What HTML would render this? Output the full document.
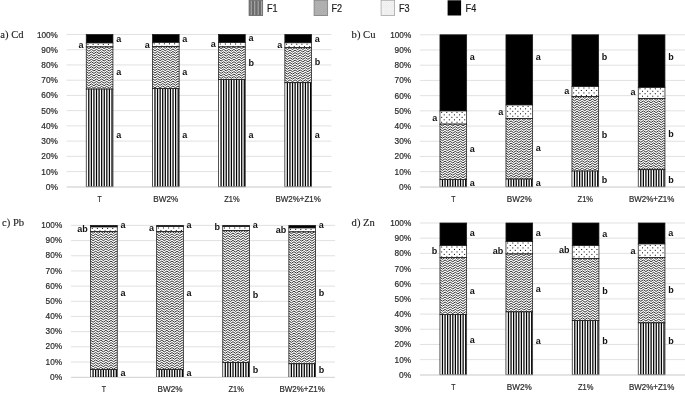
<!DOCTYPE html>
<html><head><meta charset="utf-8"><title>Fractions</title>
<style>
html,body{margin:0;padding:0;background:#fff;}
svg{display:block}
.ax{font-family:"Liberation Sans",sans-serif;font-size:9.2px;fill:#2b2b2b;stroke:#2b2b2b;stroke-width:0.22px}
.lb{font-family:"Liberation Sans",sans-serif;font-size:9px;font-weight:bold;fill:#111}
.tt{font-family:"Liberation Serif",serif;font-size:10.6px;fill:#1a1a1a;stroke:#1a1a1a;stroke-width:0.12px}
.lg{font-family:"Liberation Sans",sans-serif;font-size:10.4px;fill:#1c1c1c;stroke:#1c1c1c;stroke-width:0.2px}
</style></head><body>
<svg width="685" height="393" viewBox="0 0 685 393">
<defs>
<g id="gv"><rect x="0" y="0" width="30" height="160" fill="#fff"/><rect x="1.90" y="0" width="1.25" height="160"/><rect x="4.48" y="0" width="1.25" height="160"/><rect x="7.06" y="0" width="1.25" height="160"/><rect x="9.64" y="0" width="1.25" height="160"/><rect x="12.22" y="0" width="1.25" height="160"/><rect x="14.80" y="0" width="1.25" height="160"/><rect x="17.38" y="0" width="1.25" height="160"/><rect x="19.96" y="0" width="1.25" height="160"/><rect x="22.54" y="0" width="1.25" height="160"/><rect x="25.12" y="0" width="1.25" height="160"/><rect x="27.70" y="0" width="1.25" height="160"/></g>
<polyline id="zr" points="-2.56,1.78 0.00,0.00 2.56,1.78 5.12,0.00 7.68,1.78 10.24,0.00 12.80,1.78 15.36,0.00 17.92,1.78 20.48,0.00 23.04,1.78 25.60,0.00 28.16,1.78 30.72,0.00"/>
<g id="gz"><rect x="0" y="0" width="30" height="160" fill="#fff"/><g fill="none" stroke="#000" stroke-width="0.82" stroke-linejoin="round"><use href="#zr" y="-2.47"/><use href="#zr" y="0.00"/><use href="#zr" y="2.47"/><use href="#zr" y="4.94"/><use href="#zr" y="7.41"/><use href="#zr" y="9.88"/><use href="#zr" y="12.35"/><use href="#zr" y="14.82"/><use href="#zr" y="17.29"/><use href="#zr" y="19.76"/><use href="#zr" y="22.23"/><use href="#zr" y="24.70"/><use href="#zr" y="27.17"/><use href="#zr" y="29.64"/><use href="#zr" y="32.11"/><use href="#zr" y="34.58"/><use href="#zr" y="37.05"/><use href="#zr" y="39.52"/><use href="#zr" y="41.99"/><use href="#zr" y="44.46"/><use href="#zr" y="46.93"/><use href="#zr" y="49.40"/><use href="#zr" y="51.87"/><use href="#zr" y="54.34"/><use href="#zr" y="56.81"/><use href="#zr" y="59.28"/><use href="#zr" y="61.75"/><use href="#zr" y="64.22"/><use href="#zr" y="66.69"/><use href="#zr" y="69.16"/><use href="#zr" y="71.63"/><use href="#zr" y="74.10"/><use href="#zr" y="76.57"/><use href="#zr" y="79.04"/><use href="#zr" y="81.51"/><use href="#zr" y="83.98"/><use href="#zr" y="86.45"/><use href="#zr" y="88.92"/><use href="#zr" y="91.39"/><use href="#zr" y="93.86"/><use href="#zr" y="96.33"/><use href="#zr" y="98.80"/><use href="#zr" y="101.27"/><use href="#zr" y="103.74"/><use href="#zr" y="106.21"/><use href="#zr" y="108.68"/><use href="#zr" y="111.15"/><use href="#zr" y="113.62"/><use href="#zr" y="116.09"/><use href="#zr" y="118.56"/><use href="#zr" y="121.03"/><use href="#zr" y="123.50"/><use href="#zr" y="125.97"/><use href="#zr" y="128.44"/><use href="#zr" y="130.91"/><use href="#zr" y="133.38"/><use href="#zr" y="135.85"/><use href="#zr" y="138.32"/><use href="#zr" y="140.79"/><use href="#zr" y="143.26"/><use href="#zr" y="145.73"/><use href="#zr" y="148.20"/><use href="#zr" y="150.67"/><use href="#zr" y="153.14"/><use href="#zr" y="155.61"/><use href="#zr" y="158.08"/><use href="#zr" y="160.55"/></g></g>
<g id="dr"><rect x="1.20" y="0" width="1" height="1"/><rect x="6.32" y="0" width="1" height="1"/><rect x="11.44" y="0" width="1" height="1"/><rect x="16.56" y="0" width="1" height="1"/><rect x="21.68" y="0" width="1" height="1"/><rect x="26.80" y="0" width="1" height="1"/><rect x="31.92" y="0" width="1" height="1"/></g>
<g id="gd"><rect x="0" y="0" width="30" height="160" fill="#fff"/><use href="#dr" x="0.00" y="0.90"/><use href="#dr" x="2.56" y="3.37"/><use href="#dr" x="0.00" y="5.84"/><use href="#dr" x="2.56" y="8.31"/><use href="#dr" x="0.00" y="10.78"/><use href="#dr" x="2.56" y="13.25"/><use href="#dr" x="0.00" y="15.72"/><use href="#dr" x="2.56" y="18.19"/><use href="#dr" x="0.00" y="20.66"/><use href="#dr" x="2.56" y="23.13"/><use href="#dr" x="0.00" y="25.60"/><use href="#dr" x="2.56" y="28.07"/><use href="#dr" x="0.00" y="30.54"/><use href="#dr" x="2.56" y="33.01"/><use href="#dr" x="0.00" y="35.48"/><use href="#dr" x="2.56" y="37.95"/><use href="#dr" x="0.00" y="40.42"/><use href="#dr" x="2.56" y="42.89"/><use href="#dr" x="0.00" y="45.36"/><use href="#dr" x="2.56" y="47.83"/><use href="#dr" x="0.00" y="50.30"/><use href="#dr" x="2.56" y="52.77"/><use href="#dr" x="0.00" y="55.24"/><use href="#dr" x="2.56" y="57.71"/><use href="#dr" x="0.00" y="60.18"/><use href="#dr" x="2.56" y="62.65"/><use href="#dr" x="0.00" y="65.12"/><use href="#dr" x="2.56" y="67.59"/><use href="#dr" x="0.00" y="70.06"/><use href="#dr" x="2.56" y="72.53"/><use href="#dr" x="0.00" y="75.00"/><use href="#dr" x="2.56" y="77.47"/><use href="#dr" x="0.00" y="79.94"/><use href="#dr" x="2.56" y="82.41"/><use href="#dr" x="0.00" y="84.88"/><use href="#dr" x="2.56" y="87.35"/><use href="#dr" x="0.00" y="89.82"/><use href="#dr" x="2.56" y="92.29"/><use href="#dr" x="0.00" y="94.76"/><use href="#dr" x="2.56" y="97.23"/><use href="#dr" x="0.00" y="99.70"/><use href="#dr" x="2.56" y="102.17"/><use href="#dr" x="0.00" y="104.64"/><use href="#dr" x="2.56" y="107.11"/><use href="#dr" x="0.00" y="109.58"/><use href="#dr" x="2.56" y="112.05"/><use href="#dr" x="0.00" y="114.52"/><use href="#dr" x="2.56" y="116.99"/><use href="#dr" x="0.00" y="119.46"/><use href="#dr" x="2.56" y="121.93"/><use href="#dr" x="0.00" y="124.40"/><use href="#dr" x="2.56" y="126.87"/><use href="#dr" x="0.00" y="129.34"/><use href="#dr" x="2.56" y="131.81"/><use href="#dr" x="0.00" y="134.28"/><use href="#dr" x="2.56" y="136.75"/><use href="#dr" x="0.00" y="139.22"/><use href="#dr" x="2.56" y="141.69"/><use href="#dr" x="0.00" y="144.16"/><use href="#dr" x="2.56" y="146.63"/><use href="#dr" x="0.00" y="149.10"/><use href="#dr" x="2.56" y="151.57"/><use href="#dr" x="0.00" y="154.04"/><use href="#dr" x="2.56" y="156.51"/><use href="#dr" x="0.00" y="158.98"/></g>
</defs>
<rect width="685" height="393" fill="#fff"/>

<rect x="249.1" y="0.3" width="13.5" height="15.2" fill="#6b6b6b"/>
<rect x="250.70" y="0.3" width="1.1" height="15.2" fill="#aaa"/>
<rect x="254.15" y="0.3" width="1.1" height="15.2" fill="#aaa"/>
<rect x="257.60" y="0.3" width="1.1" height="15.2" fill="#aaa"/>
<rect x="261.05" y="0.3" width="1.1" height="15.2" fill="#aaa"/>
<rect x="249.1" y="0.3" width="13.5" height="15.2" fill="none" stroke="#6e6e6e" stroke-width="0.9"/>
<text class="lg" x="267" y="11.8" textLength="10.6" lengthAdjust="spacingAndGlyphs">F1</text>
<rect x="314.1" y="0.3" width="13.5" height="15.2" fill="#bcbcbc"/>
<svg x="314.1" y="0.3" width="13.5" height="15.2" viewBox="314.1 0.3 13.5 15.2"><path d="M298.10 0.30 l16 16 M314.10 0.30 l-16 16 M299.82 0.30 l16 16 M315.82 0.30 l-16 16 M301.54 0.30 l16 16 M317.54 0.30 l-16 16 M303.26 0.30 l16 16 M319.26 0.30 l-16 16 M304.98 0.30 l16 16 M320.98 0.30 l-16 16 M306.70 0.30 l16 16 M322.70 0.30 l-16 16 M308.42 0.30 l16 16 M324.42 0.30 l-16 16 M310.14 0.30 l16 16 M326.14 0.30 l-16 16 M311.86 0.30 l16 16 M327.86 0.30 l-16 16 M313.58 0.30 l16 16 M329.58 0.30 l-16 16 M315.30 0.30 l16 16 M331.30 0.30 l-16 16 M317.02 0.30 l16 16 M333.02 0.30 l-16 16 M318.74 0.30 l16 16 M334.74 0.30 l-16 16 M320.46 0.30 l16 16 M336.46 0.30 l-16 16 M322.18 0.30 l16 16 M338.18 0.30 l-16 16 M323.90 0.30 l16 16 M339.90 0.30 l-16 16 M325.62 0.30 l16 16 M341.62 0.30 l-16 16 M327.34 0.30 l16 16 M343.34 0.30 l-16 16" stroke="#a2a2a2" stroke-width="0.45" fill="none"/></svg>
<rect x="314.1" y="0.3" width="13.5" height="15.2" fill="none" stroke="#858585" stroke-width="0.9"/>
<text class="lg" x="331.5" y="11.8" textLength="10.6" lengthAdjust="spacingAndGlyphs">F2</text>
<rect x="381.1" y="0.3" width="13.5" height="15.2" fill="#f6f6f6"/>
<path d="M382.30 1.50h0.6v0.6h-0.6zM384.02 1.50h0.6v0.6h-0.6zM385.74 1.50h0.6v0.6h-0.6zM387.46 1.50h0.6v0.6h-0.6zM389.18 1.50h0.6v0.6h-0.6zM390.90 1.50h0.6v0.6h-0.6zM392.62 1.50h0.6v0.6h-0.6zM383.16 2.36h0.6v0.6h-0.6zM384.88 2.36h0.6v0.6h-0.6zM386.60 2.36h0.6v0.6h-0.6zM388.32 2.36h0.6v0.6h-0.6zM390.04 2.36h0.6v0.6h-0.6zM391.76 2.36h0.6v0.6h-0.6zM393.48 2.36h0.6v0.6h-0.6zM382.30 3.22h0.6v0.6h-0.6zM384.02 3.22h0.6v0.6h-0.6zM385.74 3.22h0.6v0.6h-0.6zM387.46 3.22h0.6v0.6h-0.6zM389.18 3.22h0.6v0.6h-0.6zM390.90 3.22h0.6v0.6h-0.6zM392.62 3.22h0.6v0.6h-0.6zM383.16 4.08h0.6v0.6h-0.6zM384.88 4.08h0.6v0.6h-0.6zM386.60 4.08h0.6v0.6h-0.6zM388.32 4.08h0.6v0.6h-0.6zM390.04 4.08h0.6v0.6h-0.6zM391.76 4.08h0.6v0.6h-0.6zM393.48 4.08h0.6v0.6h-0.6zM382.30 4.94h0.6v0.6h-0.6zM384.02 4.94h0.6v0.6h-0.6zM385.74 4.94h0.6v0.6h-0.6zM387.46 4.94h0.6v0.6h-0.6zM389.18 4.94h0.6v0.6h-0.6zM390.90 4.94h0.6v0.6h-0.6zM392.62 4.94h0.6v0.6h-0.6zM383.16 5.80h0.6v0.6h-0.6zM384.88 5.80h0.6v0.6h-0.6zM386.60 5.80h0.6v0.6h-0.6zM388.32 5.80h0.6v0.6h-0.6zM390.04 5.80h0.6v0.6h-0.6zM391.76 5.80h0.6v0.6h-0.6zM393.48 5.80h0.6v0.6h-0.6zM382.30 6.66h0.6v0.6h-0.6zM384.02 6.66h0.6v0.6h-0.6zM385.74 6.66h0.6v0.6h-0.6zM387.46 6.66h0.6v0.6h-0.6zM389.18 6.66h0.6v0.6h-0.6zM390.90 6.66h0.6v0.6h-0.6zM392.62 6.66h0.6v0.6h-0.6zM383.16 7.52h0.6v0.6h-0.6zM384.88 7.52h0.6v0.6h-0.6zM386.60 7.52h0.6v0.6h-0.6zM388.32 7.52h0.6v0.6h-0.6zM390.04 7.52h0.6v0.6h-0.6zM391.76 7.52h0.6v0.6h-0.6zM393.48 7.52h0.6v0.6h-0.6zM382.30 8.38h0.6v0.6h-0.6zM384.02 8.38h0.6v0.6h-0.6zM385.74 8.38h0.6v0.6h-0.6zM387.46 8.38h0.6v0.6h-0.6zM389.18 8.38h0.6v0.6h-0.6zM390.90 8.38h0.6v0.6h-0.6zM392.62 8.38h0.6v0.6h-0.6zM383.16 9.24h0.6v0.6h-0.6zM384.88 9.24h0.6v0.6h-0.6zM386.60 9.24h0.6v0.6h-0.6zM388.32 9.24h0.6v0.6h-0.6zM390.04 9.24h0.6v0.6h-0.6zM391.76 9.24h0.6v0.6h-0.6zM393.48 9.24h0.6v0.6h-0.6zM382.30 10.10h0.6v0.6h-0.6zM384.02 10.10h0.6v0.6h-0.6zM385.74 10.10h0.6v0.6h-0.6zM387.46 10.10h0.6v0.6h-0.6zM389.18 10.10h0.6v0.6h-0.6zM390.90 10.10h0.6v0.6h-0.6zM392.62 10.10h0.6v0.6h-0.6zM383.16 10.96h0.6v0.6h-0.6zM384.88 10.96h0.6v0.6h-0.6zM386.60 10.96h0.6v0.6h-0.6zM388.32 10.96h0.6v0.6h-0.6zM390.04 10.96h0.6v0.6h-0.6zM391.76 10.96h0.6v0.6h-0.6zM393.48 10.96h0.6v0.6h-0.6zM382.30 11.82h0.6v0.6h-0.6zM384.02 11.82h0.6v0.6h-0.6zM385.74 11.82h0.6v0.6h-0.6zM387.46 11.82h0.6v0.6h-0.6zM389.18 11.82h0.6v0.6h-0.6zM390.90 11.82h0.6v0.6h-0.6zM392.62 11.82h0.6v0.6h-0.6zM383.16 12.68h0.6v0.6h-0.6zM384.88 12.68h0.6v0.6h-0.6zM386.60 12.68h0.6v0.6h-0.6zM388.32 12.68h0.6v0.6h-0.6zM390.04 12.68h0.6v0.6h-0.6zM391.76 12.68h0.6v0.6h-0.6zM393.48 12.68h0.6v0.6h-0.6zM382.30 13.54h0.6v0.6h-0.6zM384.02 13.54h0.6v0.6h-0.6zM385.74 13.54h0.6v0.6h-0.6zM387.46 13.54h0.6v0.6h-0.6zM389.18 13.54h0.6v0.6h-0.6zM390.90 13.54h0.6v0.6h-0.6zM392.62 13.54h0.6v0.6h-0.6zM383.16 14.40h0.6v0.6h-0.6zM384.88 14.40h0.6v0.6h-0.6zM386.60 14.40h0.6v0.6h-0.6zM388.32 14.40h0.6v0.6h-0.6zM390.04 14.40h0.6v0.6h-0.6zM391.76 14.40h0.6v0.6h-0.6zM393.48 14.40h0.6v0.6h-0.6z" fill="#dcdcdc"/>
<rect x="381.1" y="0.3" width="13.5" height="15.2" fill="none" stroke="#a6a6a6" stroke-width="0.8"/>
<text class="lg" x="399" y="11.8" textLength="10.6" lengthAdjust="spacingAndGlyphs">F3</text>
<rect x="447.6" y="0.3" width="13.5" height="15.2" fill="#000"/>
<text class="lg" x="465.6" y="11.8" textLength="10.6" lengthAdjust="spacingAndGlyphs">F4</text>
<g id="chart-a">
<text class="tt" x="0.3" y="37.6">a) Cd</text>
<line x1="66.6" x2="331.4" y1="34.50" y2="34.50" stroke="#d9d9d9" stroke-width="0.8"/>
<text class="ax" x="57.9" y="37.50" text-anchor="end" textLength="21.0" lengthAdjust="spacingAndGlyphs">100%</text>
<line x1="66.6" x2="331.4" y1="49.73" y2="49.73" stroke="#d9d9d9" stroke-width="0.8"/>
<text class="ax" x="57.9" y="52.73" text-anchor="end" textLength="16.6" lengthAdjust="spacingAndGlyphs">90%</text>
<line x1="66.6" x2="331.4" y1="64.96" y2="64.96" stroke="#d9d9d9" stroke-width="0.8"/>
<text class="ax" x="57.9" y="67.96" text-anchor="end" textLength="16.6" lengthAdjust="spacingAndGlyphs">80%</text>
<line x1="66.6" x2="331.4" y1="80.19" y2="80.19" stroke="#d9d9d9" stroke-width="0.8"/>
<text class="ax" x="57.9" y="83.19" text-anchor="end" textLength="16.6" lengthAdjust="spacingAndGlyphs">70%</text>
<line x1="66.6" x2="331.4" y1="95.42" y2="95.42" stroke="#d9d9d9" stroke-width="0.8"/>
<text class="ax" x="57.9" y="98.42" text-anchor="end" textLength="16.6" lengthAdjust="spacingAndGlyphs">60%</text>
<line x1="66.6" x2="331.4" y1="110.65" y2="110.65" stroke="#d9d9d9" stroke-width="0.8"/>
<text class="ax" x="57.9" y="113.65" text-anchor="end" textLength="16.6" lengthAdjust="spacingAndGlyphs">50%</text>
<line x1="66.6" x2="331.4" y1="125.88" y2="125.88" stroke="#d9d9d9" stroke-width="0.8"/>
<text class="ax" x="57.9" y="128.88" text-anchor="end" textLength="16.6" lengthAdjust="spacingAndGlyphs">40%</text>
<line x1="66.6" x2="331.4" y1="141.11" y2="141.11" stroke="#d9d9d9" stroke-width="0.8"/>
<text class="ax" x="57.9" y="144.11" text-anchor="end" textLength="16.6" lengthAdjust="spacingAndGlyphs">30%</text>
<line x1="66.6" x2="331.4" y1="156.34" y2="156.34" stroke="#d9d9d9" stroke-width="0.8"/>
<text class="ax" x="57.9" y="159.34" text-anchor="end" textLength="16.6" lengthAdjust="spacingAndGlyphs">20%</text>
<line x1="66.6" x2="331.4" y1="171.57" y2="171.57" stroke="#d9d9d9" stroke-width="0.8"/>
<text class="ax" x="57.9" y="174.57" text-anchor="end" textLength="16.6" lengthAdjust="spacingAndGlyphs">10%</text>
<line x1="66.6" x2="331.4" y1="186.80" y2="186.80" stroke="#d9d9d9" stroke-width="0.8"/>
<text class="ax" x="57.9" y="189.80" text-anchor="end" textLength="12.2" lengthAdjust="spacingAndGlyphs">0%</text>
<rect x="86.25" y="34.50" width="26.70" height="8.50" fill="#000"/><rect x="86.25" y="34.50" width="26.70" height="8.50" fill="none" stroke="#1a1a1a" stroke-width="0.75"/>
<svg x="86.25" y="43.00" width="26.70" height="3.90"><use href="#gd"/></svg><rect x="86.25" y="43.00" width="26.70" height="3.90" fill="none" stroke="#1a1a1a" stroke-width="0.75"/>
<svg x="86.25" y="46.90" width="26.70" height="42.20"><use href="#gz"/></svg><rect x="86.25" y="46.90" width="26.70" height="42.20" fill="none" stroke="#1a1a1a" stroke-width="0.75"/>
<svg x="86.25" y="89.10" width="26.70" height="97.70"><use href="#gv"/></svg><rect x="86.25" y="89.10" width="26.70" height="97.70" fill="none" stroke="#1a1a1a" stroke-width="0.75"/>
<text class="lb" x="116.15" y="42.25">a</text>
<text class="lb" x="83.55" y="48.45" text-anchor="end">a</text>
<text class="lb" x="116.15" y="74.85">a</text>
<text class="lb" x="116.15" y="137.85">a</text>
<text class="ax" x="99.60" y="202.2" text-anchor="middle" textLength="4.2" lengthAdjust="spacingAndGlyphs">T</text>
<rect x="152.45" y="34.50" width="26.70" height="7.90" fill="#000"/><rect x="152.45" y="34.50" width="26.70" height="7.90" fill="none" stroke="#1a1a1a" stroke-width="0.75"/>
<svg x="152.45" y="42.40" width="26.70" height="4.10"><use href="#gd"/></svg><rect x="152.45" y="42.40" width="26.70" height="4.10" fill="none" stroke="#1a1a1a" stroke-width="0.75"/>
<svg x="152.45" y="46.50" width="26.70" height="42.00"><use href="#gz"/></svg><rect x="152.45" y="46.50" width="26.70" height="42.00" fill="none" stroke="#1a1a1a" stroke-width="0.75"/>
<svg x="152.45" y="88.50" width="26.70" height="98.30"><use href="#gv"/></svg><rect x="152.45" y="88.50" width="26.70" height="98.30" fill="none" stroke="#1a1a1a" stroke-width="0.75"/>
<text class="lb" x="182.35" y="41.85">a</text>
<text class="lb" x="149.75" y="48.25" text-anchor="end">a</text>
<text class="lb" x="182.35" y="75.45">a</text>
<text class="lb" x="182.35" y="137.85">a</text>
<text class="ax" x="165.80" y="202.2" text-anchor="middle" textLength="25" lengthAdjust="spacingAndGlyphs">BW2%</text>
<rect x="218.55" y="34.50" width="26.70" height="8.10" fill="#000"/><rect x="218.55" y="34.50" width="26.70" height="8.10" fill="none" stroke="#1a1a1a" stroke-width="0.75"/>
<svg x="218.55" y="42.60" width="26.70" height="4.30"><use href="#gd"/></svg><rect x="218.55" y="42.60" width="26.70" height="4.30" fill="none" stroke="#1a1a1a" stroke-width="0.75"/>
<svg x="218.55" y="46.90" width="26.70" height="32.60"><use href="#gz"/></svg><rect x="218.55" y="46.90" width="26.70" height="32.60" fill="none" stroke="#1a1a1a" stroke-width="0.75"/>
<svg x="218.55" y="79.50" width="26.70" height="107.30"><use href="#gv"/></svg><rect x="218.55" y="79.50" width="26.70" height="107.30" fill="none" stroke="#1a1a1a" stroke-width="0.75"/>
<text class="lb" x="248.45" y="41.25">a</text>
<text class="lb" x="215.85" y="47.45" text-anchor="end">a</text>
<text class="lb" x="248.45" y="65.65">b</text>
<text class="lb" x="248.45" y="137.85">a</text>
<text class="ax" x="231.90" y="202.2" text-anchor="middle" textLength="15.4" lengthAdjust="spacingAndGlyphs">Z1%</text>
<rect x="284.85" y="34.50" width="26.70" height="8.30" fill="#000"/><rect x="284.85" y="34.50" width="26.70" height="8.30" fill="none" stroke="#1a1a1a" stroke-width="0.75"/>
<svg x="284.85" y="42.80" width="26.70" height="4.90"><use href="#gd"/></svg><rect x="284.85" y="42.80" width="26.70" height="4.90" fill="none" stroke="#1a1a1a" stroke-width="0.75"/>
<svg x="284.85" y="47.70" width="26.70" height="35.00"><use href="#gz"/></svg><rect x="284.85" y="47.70" width="26.70" height="35.00" fill="none" stroke="#1a1a1a" stroke-width="0.75"/>
<svg x="284.85" y="82.70" width="26.70" height="104.10"><use href="#gv"/></svg><rect x="284.85" y="82.70" width="26.70" height="104.10" fill="none" stroke="#1a1a1a" stroke-width="0.75"/>
<text class="lb" x="314.75" y="41.85">a</text>
<text class="lb" x="282.15" y="48.25" text-anchor="end">a</text>
<text class="lb" x="314.75" y="65.25">b</text>
<text class="lb" x="314.75" y="137.85">a</text>
<text class="ax" x="298.20" y="202.2" text-anchor="middle" textLength="45.4" lengthAdjust="spacingAndGlyphs">BW2%+Z1%</text>
<line x1="66.6" x2="331.4" y1="187.10" y2="187.10" stroke="#d9d9d9" stroke-width="1"/>
</g>
<g id="chart-b">
<text class="tt" x="351.6" y="37.6">b) Cu</text>
<line x1="420" x2="685" y1="34.80" y2="34.80" stroke="#d9d9d9" stroke-width="0.8"/>
<text class="ax" x="411.2" y="37.80" text-anchor="end" textLength="21.0" lengthAdjust="spacingAndGlyphs">100%</text>
<line x1="420" x2="685" y1="50.01" y2="50.01" stroke="#d9d9d9" stroke-width="0.8"/>
<text class="ax" x="411.2" y="53.01" text-anchor="end" textLength="16.6" lengthAdjust="spacingAndGlyphs">90%</text>
<line x1="420" x2="685" y1="65.22" y2="65.22" stroke="#d9d9d9" stroke-width="0.8"/>
<text class="ax" x="411.2" y="68.22" text-anchor="end" textLength="16.6" lengthAdjust="spacingAndGlyphs">80%</text>
<line x1="420" x2="685" y1="80.43" y2="80.43" stroke="#d9d9d9" stroke-width="0.8"/>
<text class="ax" x="411.2" y="83.43" text-anchor="end" textLength="16.6" lengthAdjust="spacingAndGlyphs">70%</text>
<line x1="420" x2="685" y1="95.64" y2="95.64" stroke="#d9d9d9" stroke-width="0.8"/>
<text class="ax" x="411.2" y="98.64" text-anchor="end" textLength="16.6" lengthAdjust="spacingAndGlyphs">60%</text>
<line x1="420" x2="685" y1="110.85" y2="110.85" stroke="#d9d9d9" stroke-width="0.8"/>
<text class="ax" x="411.2" y="113.85" text-anchor="end" textLength="16.6" lengthAdjust="spacingAndGlyphs">50%</text>
<line x1="420" x2="685" y1="126.06" y2="126.06" stroke="#d9d9d9" stroke-width="0.8"/>
<text class="ax" x="411.2" y="129.06" text-anchor="end" textLength="16.6" lengthAdjust="spacingAndGlyphs">40%</text>
<line x1="420" x2="685" y1="141.27" y2="141.27" stroke="#d9d9d9" stroke-width="0.8"/>
<text class="ax" x="411.2" y="144.27" text-anchor="end" textLength="16.6" lengthAdjust="spacingAndGlyphs">30%</text>
<line x1="420" x2="685" y1="156.48" y2="156.48" stroke="#d9d9d9" stroke-width="0.8"/>
<text class="ax" x="411.2" y="159.48" text-anchor="end" textLength="16.6" lengthAdjust="spacingAndGlyphs">20%</text>
<line x1="420" x2="685" y1="171.69" y2="171.69" stroke="#d9d9d9" stroke-width="0.8"/>
<text class="ax" x="411.2" y="174.69" text-anchor="end" textLength="16.6" lengthAdjust="spacingAndGlyphs">10%</text>
<line x1="420" x2="685" y1="186.90" y2="186.90" stroke="#d9d9d9" stroke-width="0.8"/>
<text class="ax" x="411.2" y="189.90" text-anchor="end" textLength="12.2" lengthAdjust="spacingAndGlyphs">0%</text>
<rect x="439.95" y="34.80" width="26.70" height="76.20" fill="#000"/><rect x="439.95" y="34.80" width="26.70" height="76.20" fill="none" stroke="#1a1a1a" stroke-width="0.75"/>
<svg x="439.95" y="111.00" width="26.70" height="13.10"><use href="#gd"/></svg><rect x="439.95" y="111.00" width="26.70" height="13.10" fill="none" stroke="#1a1a1a" stroke-width="0.75"/>
<svg x="439.95" y="124.10" width="26.70" height="55.40"><use href="#gz"/></svg><rect x="439.95" y="124.10" width="26.70" height="55.40" fill="none" stroke="#1a1a1a" stroke-width="0.75"/>
<svg x="439.95" y="179.50" width="26.70" height="7.40"><use href="#gv"/></svg><rect x="439.95" y="179.50" width="26.70" height="7.40" fill="none" stroke="#1a1a1a" stroke-width="0.75"/>
<text class="lb" x="469.85" y="59.85">a</text>
<text class="lb" x="437.25" y="120.85" text-anchor="end">a</text>
<text class="lb" x="469.85" y="152.15">a</text>
<text class="lb" x="469.85" y="186.25">a</text>
<text class="ax" x="453.30" y="202.4" text-anchor="middle" textLength="4.2" lengthAdjust="spacingAndGlyphs">T</text>
<rect x="505.95" y="34.80" width="26.70" height="70.20" fill="#000"/><rect x="505.95" y="34.80" width="26.70" height="70.20" fill="none" stroke="#1a1a1a" stroke-width="0.75"/>
<svg x="505.95" y="105.00" width="26.70" height="13.50"><use href="#gd"/></svg><rect x="505.95" y="105.00" width="26.70" height="13.50" fill="none" stroke="#1a1a1a" stroke-width="0.75"/>
<svg x="505.95" y="118.50" width="26.70" height="60.60"><use href="#gz"/></svg><rect x="505.95" y="118.50" width="26.70" height="60.60" fill="none" stroke="#1a1a1a" stroke-width="0.75"/>
<svg x="505.95" y="179.10" width="26.70" height="7.80"><use href="#gv"/></svg><rect x="505.95" y="179.10" width="26.70" height="7.80" fill="none" stroke="#1a1a1a" stroke-width="0.75"/>
<text class="lb" x="535.85" y="59.85">a</text>
<text class="lb" x="503.25" y="115.35" text-anchor="end">a</text>
<text class="lb" x="535.85" y="150.55">a</text>
<text class="lb" x="535.85" y="186.25">a</text>
<text class="ax" x="519.30" y="202.4" text-anchor="middle" textLength="25" lengthAdjust="spacingAndGlyphs">BW2%</text>
<rect x="571.95" y="34.80" width="26.70" height="51.80" fill="#000"/><rect x="571.95" y="34.80" width="26.70" height="51.80" fill="none" stroke="#1a1a1a" stroke-width="0.75"/>
<svg x="571.95" y="86.60" width="26.70" height="9.90"><use href="#gd"/></svg><rect x="571.95" y="86.60" width="26.70" height="9.90" fill="none" stroke="#1a1a1a" stroke-width="0.75"/>
<svg x="571.95" y="96.50" width="26.70" height="74.60"><use href="#gz"/></svg><rect x="571.95" y="96.50" width="26.70" height="74.60" fill="none" stroke="#1a1a1a" stroke-width="0.75"/>
<svg x="571.95" y="171.10" width="26.70" height="15.80"><use href="#gv"/></svg><rect x="571.95" y="171.10" width="26.70" height="15.80" fill="none" stroke="#1a1a1a" stroke-width="0.75"/>
<text class="lb" x="601.85" y="60.45">b</text>
<text class="lb" x="569.25" y="94.35" text-anchor="end">a</text>
<text class="lb" x="601.85" y="137.95">b</text>
<text class="lb" x="601.85" y="182.85">b</text>
<text class="ax" x="585.30" y="202.4" text-anchor="middle" textLength="15.4" lengthAdjust="spacingAndGlyphs">Z1%</text>
<rect x="638.25" y="34.80" width="26.70" height="52.60" fill="#000"/><rect x="638.25" y="34.80" width="26.70" height="52.60" fill="none" stroke="#1a1a1a" stroke-width="0.75"/>
<svg x="638.25" y="87.40" width="26.70" height="11.10"><use href="#gd"/></svg><rect x="638.25" y="87.40" width="26.70" height="11.10" fill="none" stroke="#1a1a1a" stroke-width="0.75"/>
<svg x="638.25" y="98.50" width="26.70" height="71.20"><use href="#gz"/></svg><rect x="638.25" y="98.50" width="26.70" height="71.20" fill="none" stroke="#1a1a1a" stroke-width="0.75"/>
<svg x="638.25" y="169.70" width="26.70" height="17.20"><use href="#gv"/></svg><rect x="638.25" y="169.70" width="26.70" height="17.20" fill="none" stroke="#1a1a1a" stroke-width="0.75"/>
<text class="lb" x="668.15" y="60.45">b</text>
<text class="lb" x="635.55" y="94.95" text-anchor="end">a</text>
<text class="lb" x="668.15" y="137.25">b</text>
<text class="lb" x="668.15" y="182.85">b</text>
<text class="ax" x="651.60" y="202.4" text-anchor="middle" textLength="45.4" lengthAdjust="spacingAndGlyphs">BW2%+Z1%</text>
<line x1="420" x2="685" y1="187.20" y2="187.20" stroke="#d9d9d9" stroke-width="1"/>
</g>
<g id="chart-c">
<text class="tt" x="2" y="226">c) Pb</text>
<line x1="71" x2="335" y1="225.40" y2="225.40" stroke="#d9d9d9" stroke-width="0.8"/>
<text class="ax" x="62.2" y="228.00" text-anchor="end" textLength="21.0" lengthAdjust="spacingAndGlyphs">100%</text>
<line x1="71" x2="335" y1="240.58" y2="240.58" stroke="#d9d9d9" stroke-width="0.8"/>
<text class="ax" x="62.2" y="243.18" text-anchor="end" textLength="16.6" lengthAdjust="spacingAndGlyphs">90%</text>
<line x1="71" x2="335" y1="255.76" y2="255.76" stroke="#d9d9d9" stroke-width="0.8"/>
<text class="ax" x="62.2" y="258.36" text-anchor="end" textLength="16.6" lengthAdjust="spacingAndGlyphs">80%</text>
<line x1="71" x2="335" y1="270.94" y2="270.94" stroke="#d9d9d9" stroke-width="0.8"/>
<text class="ax" x="62.2" y="273.54" text-anchor="end" textLength="16.6" lengthAdjust="spacingAndGlyphs">70%</text>
<line x1="71" x2="335" y1="286.12" y2="286.12" stroke="#d9d9d9" stroke-width="0.8"/>
<text class="ax" x="62.2" y="288.72" text-anchor="end" textLength="16.6" lengthAdjust="spacingAndGlyphs">60%</text>
<line x1="71" x2="335" y1="301.30" y2="301.30" stroke="#d9d9d9" stroke-width="0.8"/>
<text class="ax" x="62.2" y="303.90" text-anchor="end" textLength="16.6" lengthAdjust="spacingAndGlyphs">50%</text>
<line x1="71" x2="335" y1="316.48" y2="316.48" stroke="#d9d9d9" stroke-width="0.8"/>
<text class="ax" x="62.2" y="319.08" text-anchor="end" textLength="16.6" lengthAdjust="spacingAndGlyphs">40%</text>
<line x1="71" x2="335" y1="331.66" y2="331.66" stroke="#d9d9d9" stroke-width="0.8"/>
<text class="ax" x="62.2" y="334.26" text-anchor="end" textLength="16.6" lengthAdjust="spacingAndGlyphs">30%</text>
<line x1="71" x2="335" y1="346.84" y2="346.84" stroke="#d9d9d9" stroke-width="0.8"/>
<text class="ax" x="62.2" y="349.44" text-anchor="end" textLength="16.6" lengthAdjust="spacingAndGlyphs">20%</text>
<line x1="71" x2="335" y1="362.02" y2="362.02" stroke="#d9d9d9" stroke-width="0.8"/>
<text class="ax" x="62.2" y="364.62" text-anchor="end" textLength="16.6" lengthAdjust="spacingAndGlyphs">10%</text>
<line x1="71" x2="335" y1="377.20" y2="377.20" stroke="#d9d9d9" stroke-width="0.8"/>
<text class="ax" x="62.2" y="379.80" text-anchor="end" textLength="12.2" lengthAdjust="spacingAndGlyphs">0%</text>
<rect x="90.55" y="225.40" width="26.70" height="1.60" fill="#000"/><rect x="90.55" y="225.40" width="26.70" height="1.60" fill="none" stroke="#1a1a1a" stroke-width="0.75"/>
<svg x="90.55" y="227.00" width="26.70" height="4.50"><use href="#gd"/></svg><rect x="90.55" y="227.00" width="26.70" height="4.50" fill="none" stroke="#1a1a1a" stroke-width="0.75"/>
<svg x="90.55" y="231.50" width="26.70" height="138.00"><use href="#gz"/></svg><rect x="90.55" y="231.50" width="26.70" height="138.00" fill="none" stroke="#1a1a1a" stroke-width="0.75"/>
<svg x="90.55" y="369.50" width="26.70" height="7.70"><use href="#gv"/></svg><rect x="90.55" y="369.50" width="26.70" height="7.70" fill="none" stroke="#1a1a1a" stroke-width="0.75"/>
<text class="lb" x="120.45" y="228.25">a</text>
<text class="lb" x="87.85" y="231.85" text-anchor="end">ab</text>
<text class="lb" x="120.45" y="295.85">a</text>
<text class="lb" x="120.45" y="376.25">a</text>
<text class="ax" x="103.90" y="392.4" text-anchor="middle" textLength="4.2" lengthAdjust="spacingAndGlyphs">T</text>
<rect x="156.65" y="225.40" width="26.70" height="1.20" fill="#000"/><rect x="156.65" y="225.40" width="26.70" height="1.20" fill="none" stroke="#1a1a1a" stroke-width="0.75"/>
<svg x="156.65" y="226.60" width="26.70" height="4.90"><use href="#gd"/></svg><rect x="156.65" y="226.60" width="26.70" height="4.90" fill="none" stroke="#1a1a1a" stroke-width="0.75"/>
<svg x="156.65" y="231.50" width="26.70" height="138.00"><use href="#gz"/></svg><rect x="156.65" y="231.50" width="26.70" height="138.00" fill="none" stroke="#1a1a1a" stroke-width="0.75"/>
<svg x="156.65" y="369.50" width="26.70" height="7.70"><use href="#gv"/></svg><rect x="156.65" y="369.50" width="26.70" height="7.70" fill="none" stroke="#1a1a1a" stroke-width="0.75"/>
<text class="lb" x="186.55" y="228.25">a</text>
<text class="lb" x="153.95" y="230.85" text-anchor="end">a</text>
<text class="lb" x="186.55" y="295.85">a</text>
<text class="lb" x="186.55" y="376.25">a</text>
<text class="ax" x="170.00" y="392.4" text-anchor="middle" textLength="25" lengthAdjust="spacingAndGlyphs">BW2%</text>
<rect x="222.75" y="225.40" width="26.70" height="1.20" fill="#000"/><rect x="222.75" y="225.40" width="26.70" height="1.20" fill="none" stroke="#1a1a1a" stroke-width="0.75"/>
<svg x="222.75" y="226.60" width="26.70" height="3.90"><use href="#gd"/></svg><rect x="222.75" y="226.60" width="26.70" height="3.90" fill="none" stroke="#1a1a1a" stroke-width="0.75"/>
<svg x="222.75" y="230.50" width="26.70" height="132.00"><use href="#gz"/></svg><rect x="222.75" y="230.50" width="26.70" height="132.00" fill="none" stroke="#1a1a1a" stroke-width="0.75"/>
<svg x="222.75" y="362.50" width="26.70" height="14.70"><use href="#gv"/></svg><rect x="222.75" y="362.50" width="26.70" height="14.70" fill="none" stroke="#1a1a1a" stroke-width="0.75"/>
<text class="lb" x="252.65" y="228.25">a</text>
<text class="lb" x="220.05" y="230.45" text-anchor="end">b</text>
<text class="lb" x="252.65" y="298.25">b</text>
<text class="lb" x="252.65" y="373.35">b</text>
<text class="ax" x="236.10" y="392.4" text-anchor="middle" textLength="15.4" lengthAdjust="spacingAndGlyphs">Z1%</text>
<rect x="288.85" y="225.40" width="26.70" height="2.60" fill="#000"/><rect x="288.85" y="225.40" width="26.70" height="2.60" fill="none" stroke="#1a1a1a" stroke-width="0.75"/>
<svg x="288.85" y="228.00" width="26.70" height="3.90"><use href="#gd"/></svg><rect x="288.85" y="228.00" width="26.70" height="3.90" fill="none" stroke="#1a1a1a" stroke-width="0.75"/>
<svg x="288.85" y="231.90" width="26.70" height="131.90"><use href="#gz"/></svg><rect x="288.85" y="231.90" width="26.70" height="131.90" fill="none" stroke="#1a1a1a" stroke-width="0.75"/>
<svg x="288.85" y="363.80" width="26.70" height="13.40"><use href="#gv"/></svg><rect x="288.85" y="363.80" width="26.70" height="13.40" fill="none" stroke="#1a1a1a" stroke-width="0.75"/>
<text class="lb" x="318.75" y="228.25">a</text>
<text class="lb" x="286.15" y="233.25" text-anchor="end">ab</text>
<text class="lb" x="318.75" y="296.25">b</text>
<text class="lb" x="318.75" y="373.25">b</text>
<text class="ax" x="302.20" y="392.4" text-anchor="middle" textLength="45.4" lengthAdjust="spacingAndGlyphs">BW2%+Z1%</text>
<line x1="71" x2="335" y1="377.50" y2="377.50" stroke="#d9d9d9" stroke-width="1"/>
</g>
<g id="chart-d">
<text class="tt" x="351.6" y="225.6">d) Zn</text>
<line x1="420" x2="685" y1="223.00" y2="223.00" stroke="#d9d9d9" stroke-width="0.8"/>
<text class="ax" x="411.2" y="226.00" text-anchor="end" textLength="21.0" lengthAdjust="spacingAndGlyphs">100%</text>
<line x1="420" x2="685" y1="238.18" y2="238.18" stroke="#d9d9d9" stroke-width="0.8"/>
<text class="ax" x="411.2" y="241.18" text-anchor="end" textLength="16.6" lengthAdjust="spacingAndGlyphs">90%</text>
<line x1="420" x2="685" y1="253.36" y2="253.36" stroke="#d9d9d9" stroke-width="0.8"/>
<text class="ax" x="411.2" y="256.36" text-anchor="end" textLength="16.6" lengthAdjust="spacingAndGlyphs">80%</text>
<line x1="420" x2="685" y1="268.54" y2="268.54" stroke="#d9d9d9" stroke-width="0.8"/>
<text class="ax" x="411.2" y="271.54" text-anchor="end" textLength="16.6" lengthAdjust="spacingAndGlyphs">70%</text>
<line x1="420" x2="685" y1="283.72" y2="283.72" stroke="#d9d9d9" stroke-width="0.8"/>
<text class="ax" x="411.2" y="286.72" text-anchor="end" textLength="16.6" lengthAdjust="spacingAndGlyphs">60%</text>
<line x1="420" x2="685" y1="298.90" y2="298.90" stroke="#d9d9d9" stroke-width="0.8"/>
<text class="ax" x="411.2" y="301.90" text-anchor="end" textLength="16.6" lengthAdjust="spacingAndGlyphs">50%</text>
<line x1="420" x2="685" y1="314.08" y2="314.08" stroke="#d9d9d9" stroke-width="0.8"/>
<text class="ax" x="411.2" y="317.08" text-anchor="end" textLength="16.6" lengthAdjust="spacingAndGlyphs">40%</text>
<line x1="420" x2="685" y1="329.26" y2="329.26" stroke="#d9d9d9" stroke-width="0.8"/>
<text class="ax" x="411.2" y="332.26" text-anchor="end" textLength="16.6" lengthAdjust="spacingAndGlyphs">30%</text>
<line x1="420" x2="685" y1="344.44" y2="344.44" stroke="#d9d9d9" stroke-width="0.8"/>
<text class="ax" x="411.2" y="347.44" text-anchor="end" textLength="16.6" lengthAdjust="spacingAndGlyphs">20%</text>
<line x1="420" x2="685" y1="359.62" y2="359.62" stroke="#d9d9d9" stroke-width="0.8"/>
<text class="ax" x="411.2" y="362.62" text-anchor="end" textLength="16.6" lengthAdjust="spacingAndGlyphs">10%</text>
<line x1="420" x2="685" y1="374.80" y2="374.80" stroke="#d9d9d9" stroke-width="0.8"/>
<text class="ax" x="411.2" y="377.80" text-anchor="end" textLength="12.2" lengthAdjust="spacingAndGlyphs">0%</text>
<rect x="439.95" y="223.00" width="26.70" height="22.60" fill="#000"/><rect x="439.95" y="223.00" width="26.70" height="22.60" fill="none" stroke="#1a1a1a" stroke-width="0.75"/>
<svg x="439.95" y="245.60" width="26.70" height="11.90"><use href="#gd"/></svg><rect x="439.95" y="245.60" width="26.70" height="11.90" fill="none" stroke="#1a1a1a" stroke-width="0.75"/>
<svg x="439.95" y="257.50" width="26.70" height="57.00"><use href="#gz"/></svg><rect x="439.95" y="257.50" width="26.70" height="57.00" fill="none" stroke="#1a1a1a" stroke-width="0.75"/>
<svg x="439.95" y="314.50" width="26.70" height="60.30"><use href="#gv"/></svg><rect x="439.95" y="314.50" width="26.70" height="60.30" fill="none" stroke="#1a1a1a" stroke-width="0.75"/>
<text class="lb" x="469.85" y="236.25">a</text>
<text class="lb" x="437.25" y="254.05" text-anchor="end">b</text>
<text class="lb" x="469.85" y="293.85">a</text>
<text class="lb" x="469.85" y="343.25">a</text>
<text class="ax" x="453.30" y="390.2" text-anchor="middle" textLength="4.2" lengthAdjust="spacingAndGlyphs">T</text>
<rect x="505.95" y="223.00" width="26.70" height="18.60" fill="#000"/><rect x="505.95" y="223.00" width="26.70" height="18.60" fill="none" stroke="#1a1a1a" stroke-width="0.75"/>
<svg x="505.95" y="241.60" width="26.70" height="12.30"><use href="#gd"/></svg><rect x="505.95" y="241.60" width="26.70" height="12.30" fill="none" stroke="#1a1a1a" stroke-width="0.75"/>
<svg x="505.95" y="253.90" width="26.70" height="58.00"><use href="#gz"/></svg><rect x="505.95" y="253.90" width="26.70" height="58.00" fill="none" stroke="#1a1a1a" stroke-width="0.75"/>
<svg x="505.95" y="311.90" width="26.70" height="62.90"><use href="#gv"/></svg><rect x="505.95" y="311.90" width="26.70" height="62.90" fill="none" stroke="#1a1a1a" stroke-width="0.75"/>
<text class="lb" x="535.85" y="235.85">a</text>
<text class="lb" x="503.25" y="253.65" text-anchor="end">ab</text>
<text class="lb" x="535.85" y="292.45">a</text>
<text class="lb" x="535.85" y="344.45">a</text>
<text class="ax" x="519.30" y="390.2" text-anchor="middle" textLength="25" lengthAdjust="spacingAndGlyphs">BW2%</text>
<rect x="572.25" y="223.00" width="26.70" height="22.60" fill="#000"/><rect x="572.25" y="223.00" width="26.70" height="22.60" fill="none" stroke="#1a1a1a" stroke-width="0.75"/>
<svg x="572.25" y="245.60" width="26.70" height="12.90"><use href="#gd"/></svg><rect x="572.25" y="245.60" width="26.70" height="12.90" fill="none" stroke="#1a1a1a" stroke-width="0.75"/>
<svg x="572.25" y="258.50" width="26.70" height="62.00"><use href="#gz"/></svg><rect x="572.25" y="258.50" width="26.70" height="62.00" fill="none" stroke="#1a1a1a" stroke-width="0.75"/>
<svg x="572.25" y="320.50" width="26.70" height="54.30"><use href="#gv"/></svg><rect x="572.25" y="320.50" width="26.70" height="54.30" fill="none" stroke="#1a1a1a" stroke-width="0.75"/>
<text class="lb" x="602.15" y="236.95">a</text>
<text class="lb" x="569.55" y="253.15" text-anchor="end">ab</text>
<text class="lb" x="602.15" y="294.15">b</text>
<text class="lb" x="602.15" y="344.45">b</text>
<text class="ax" x="585.60" y="390.2" text-anchor="middle" textLength="15.4" lengthAdjust="spacingAndGlyphs">Z1%</text>
<rect x="638.25" y="223.00" width="26.70" height="21.00" fill="#000"/><rect x="638.25" y="223.00" width="26.70" height="21.00" fill="none" stroke="#1a1a1a" stroke-width="0.75"/>
<svg x="638.25" y="244.00" width="26.70" height="13.50"><use href="#gd"/></svg><rect x="638.25" y="244.00" width="26.70" height="13.50" fill="none" stroke="#1a1a1a" stroke-width="0.75"/>
<svg x="638.25" y="257.50" width="26.70" height="65.40"><use href="#gz"/></svg><rect x="638.25" y="257.50" width="26.70" height="65.40" fill="none" stroke="#1a1a1a" stroke-width="0.75"/>
<svg x="638.25" y="322.90" width="26.70" height="51.90"><use href="#gv"/></svg><rect x="638.25" y="322.90" width="26.70" height="51.90" fill="none" stroke="#1a1a1a" stroke-width="0.75"/>
<text class="lb" x="668.15" y="236.25">a</text>
<text class="lb" x="635.55" y="253.85" text-anchor="end">a</text>
<text class="lb" x="668.15" y="293.45">b</text>
<text class="lb" x="668.15" y="344.45">b</text>
<text class="ax" x="651.60" y="390.2" text-anchor="middle" textLength="45.4" lengthAdjust="spacingAndGlyphs">BW2%+Z1%</text>
<line x1="420" x2="685" y1="375.10" y2="375.10" stroke="#d9d9d9" stroke-width="1"/>
</g>
</svg></body></html>
